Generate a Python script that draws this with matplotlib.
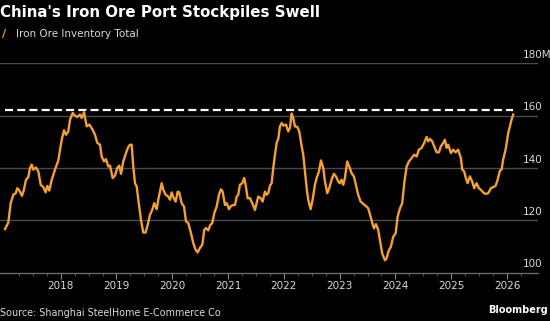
import matplotlib.pyplot as plt
from matplotlib.ticker import FixedLocator

# decimal years and inventory (million tons)
years = [
    2017.002, 2017.061, 2017.104, 2017.151, 2017.194, 2017.222, 2017.258, 2017.306, 2017.341, 2017.377,
    2017.419, 2017.450, 2017.480, 2017.509, 2017.557, 2017.599, 2017.642, 2017.688, 2017.731, 2017.760,
    2017.796, 2017.839, 2017.898, 2017.957, 2018.018, 2018.059, 2018.095, 2018.136, 2018.167, 2018.215,
    2018.256, 2018.297, 2018.346, 2018.376, 2018.418, 2018.466, 2018.513, 2018.573, 2018.615, 2018.656,
    2018.704, 2018.735, 2018.776, 2018.812, 2018.853, 2018.884, 2018.932, 2018.973, 2019.014, 2019.050,
    2019.081, 2019.122, 2019.170, 2019.211, 2019.242, 2019.272, 2019.301, 2019.332, 2019.362, 2019.391,
    2019.439, 2019.480, 2019.523, 2019.559, 2019.600, 2019.642, 2019.677, 2019.720, 2019.749, 2019.780,
    2019.810, 2019.839, 2019.882, 2019.928, 2019.959, 2019.989, 2020.018, 2020.061, 2020.097, 2020.125,
    2020.168, 2020.210, 2020.246, 2020.287, 2020.335, 2020.376, 2020.419, 2020.455, 2020.496, 2020.538,
    2020.573, 2020.604, 2020.645, 2020.681, 2020.717, 2020.753, 2020.796, 2020.837, 2020.873, 2020.903,
    2020.944, 2020.975, 2021.016, 2021.052, 2021.093, 2021.124, 2021.154, 2021.183, 2021.213, 2021.254,
    2021.290, 2021.315, 2021.351, 2021.392, 2021.434, 2021.482, 2021.513, 2021.541, 2021.584, 2021.620,
    2021.661, 2021.692, 2021.720, 2021.751, 2021.781, 2021.810, 2021.841, 2021.871, 2021.900, 2021.930,
    2021.961, 2021.989, 2022.038, 2022.079, 2022.109, 2022.140, 2022.168, 2022.199, 2022.240, 2022.276,
    2022.319, 2022.348, 2022.378, 2022.409, 2022.437, 2022.480, 2022.516, 2022.557, 2022.588, 2022.629,
    2022.665, 2022.706, 2022.737, 2022.778, 2022.814, 2022.857, 2022.898, 2022.934, 2022.975, 2023.005,
    2023.036, 2023.065, 2023.095, 2023.136, 2023.172, 2023.215, 2023.256, 2023.292, 2023.333, 2023.376,
    2023.423, 2023.471, 2023.513, 2023.556, 2023.591, 2023.615, 2023.651, 2023.692, 2023.722, 2023.763,
    2023.812, 2023.842, 2023.871, 2023.919, 2023.961, 2024.004, 2024.039, 2024.081, 2024.122, 2024.158,
    2024.201, 2024.242, 2024.290, 2024.337, 2024.380, 2024.421, 2024.470, 2024.516, 2024.559, 2024.588,
    2024.618, 2024.659, 2024.695, 2024.738, 2024.780, 2024.815, 2024.857, 2024.887, 2024.918, 2024.946,
    2024.995, 2025.036, 2025.079, 2025.125, 2025.174, 2025.197, 2025.233, 2025.258, 2025.294, 2025.335,
    2025.376, 2025.412, 2025.455, 2025.496, 2025.532, 2025.573, 2025.616, 2025.663, 2025.711, 2025.753,
    2025.796, 2025.832, 2025.873, 2025.903, 2025.932, 2025.975, 2026.022, 2026.082, 2026.111,
]
inventory = [
    116.7, 119.2, 126.6, 129.8, 130.4, 132.3, 131.4, 129.4, 131.7, 135.5,
    136.5, 140.0, 141.3, 139.4, 140.2, 138.7, 133.6, 132.7, 130.7, 133.2,
    131.4, 135.5, 139.4, 142.9, 150.8, 154.4, 152.7, 154.0, 158.5, 161.0,
    160.0, 159.5, 160.4, 159.1, 161.3, 155.9, 156.6, 154.6, 152.7, 149.6,
    148.9, 144.4, 142.5, 143.4, 140.6, 140.9, 136.2, 137.1, 140.0, 140.9,
    137.8, 142.5, 145.7, 148.0, 148.9, 148.9, 140.6, 134.2, 133.0, 127.9,
    120.2, 115.4, 115.4, 118.3, 122.1, 124.1, 126.6, 124.3, 127.9, 131.0,
    134.2, 131.7, 129.8, 129.1, 127.9, 130.7, 128.9, 127.2, 131.0, 130.7,
    126.6, 125.3, 119.6, 119.0, 115.2, 111.4, 108.8, 107.8, 109.5, 110.7,
    116.4, 117.1, 116.2, 118.3, 119.0, 122.8, 125.3, 129.8, 131.9, 131.0,
    125.9, 126.6, 124.3, 125.5, 125.9, 125.9, 129.1, 129.8, 133.6, 134.2,
    136.2, 133.6, 128.5, 128.5, 126.6, 124.0, 126.6, 129.1, 128.5, 127.2,
    131.0, 129.8, 130.4, 133.2, 134.2, 140.0, 145.1, 149.6, 151.1, 155.9,
    157.2, 156.2, 156.6, 154.0, 155.3, 160.8, 159.1, 155.9, 155.7, 154.0,
    148.3, 145.1, 138.7, 132.3, 127.9, 124.3, 127.9, 133.6, 136.2, 138.7,
    142.9, 140.0, 134.9, 130.4, 132.3, 135.7, 137.8, 136.8, 134.9, 134.2,
    135.5, 133.6, 136.2, 142.5, 140.6, 138.0, 136.8, 133.6, 129.8, 127.2,
    126.3, 125.5, 124.6, 121.4, 118.6, 117.0, 118.6, 116.3, 112.5, 107.4,
    104.8, 105.5, 108.0, 110.0, 113.8, 115.1, 121.4, 124.6, 126.6, 134.2,
    140.6, 142.5, 143.8, 145.1, 144.4, 147.0, 147.7, 149.6, 151.9, 150.2,
    151.1, 150.2, 148.3, 146.0, 146.0, 148.3, 149.6, 150.8, 147.7, 148.9,
    145.7, 147.0, 146.0, 147.0, 143.8, 139.4, 138.7, 136.5, 134.2, 136.8,
    134.9, 132.3, 134.2, 132.3, 131.7, 130.7, 130.1, 130.4, 132.3, 132.7,
    133.2, 135.5, 139.0, 139.4, 143.3, 147.0, 153.3, 158.5, 160.4,
]
record_level = 162.0

y_ticks = [100, 120, 140, 160, 180]
y_tick_labels = ["100", "120", "140", "160", "180M"]
x_ticks = [2018, 2019, 2020, 2021, 2022, 2023, 2024, 2025, 2026]

ORANGE = "#f5a030"
GRID = "#4a4a4a"
TEXT = "#d9d9d9"

fig = plt.figure(figsize=(5.5, 3.21), dpi=100, facecolor="black")
ax = fig.add_axes([0.0, 0.150, 0.978, 0.653], facecolor="black")

for v in y_ticks[1:]:
    ax.axhline(v, color=GRID, lw=1.0, zorder=1)

ax.plot([years[0], years[-1]], [record_level, record_level], color="white",
        lw=1.6, dashes=(3.6, 1.9), zorder=2)
ax.plot(years, inventory, color=ORANGE, lw=1.7, zorder=3, solid_joinstyle="round")

ax.set_xlim(2016.912, 2026.554)
ax.set_ylim(100, 180)

for s in ["top", "right", "left"]:
    ax.spines[s].set_visible(False)
ax.spines["bottom"].set_color("#6a6a6a")
ax.spines["bottom"].set_linewidth(1.0)

ax.set_yticks([])
for v, lab in zip(y_ticks, y_tick_labels):
    ax.text(0.972, v + 1.3, lab, transform=ax.get_yaxis_transform(),
            color=TEXT, fontsize=7.5, ha="left", va="bottom")

ax.xaxis.set_major_locator(FixedLocator(x_ticks))
minor = [2017 + q / 4 for q in range(1, 38) if q % 4 != 0]
ax.xaxis.set_minor_locator(FixedLocator(minor))
ax.set_xticklabels([str(y) for y in x_ticks])
ax.tick_params(axis="x", which="major", length=4, width=0.8, color="#8a8a8a",
               labelcolor=TEXT, labelsize=7.5, pad=2)
ax.tick_params(axis="x", which="minor", length=2.5, width=0.6, color="#6a6a6a")

fig.text(0.0, 0.96, "China's Iron Ore Port Stockpiles Swell", color="white",
         fontsize=10.8, fontweight="bold", ha="left", va="center")
fig.text(0.004, 0.895, "/", color=ORANGE, fontsize=8, fontweight="bold",
         ha="left", va="center")
fig.text(0.029, 0.893, "Iron Ore Inventory Total", color=TEXT, fontsize=7.5,
         ha="left", va="center")
fig.text(0.0, 0.025, "Source: Shanghai SteelHome E-Commerce Co", color=TEXT,
         fontsize=6.9, ha="left", va="center")
fig.text(0.997, 0.033, "Bloomberg", color="white", fontsize=7.0,
         fontweight="bold", ha="right", va="center")

fig.savefig("out.png", dpi=100, facecolor="black")
